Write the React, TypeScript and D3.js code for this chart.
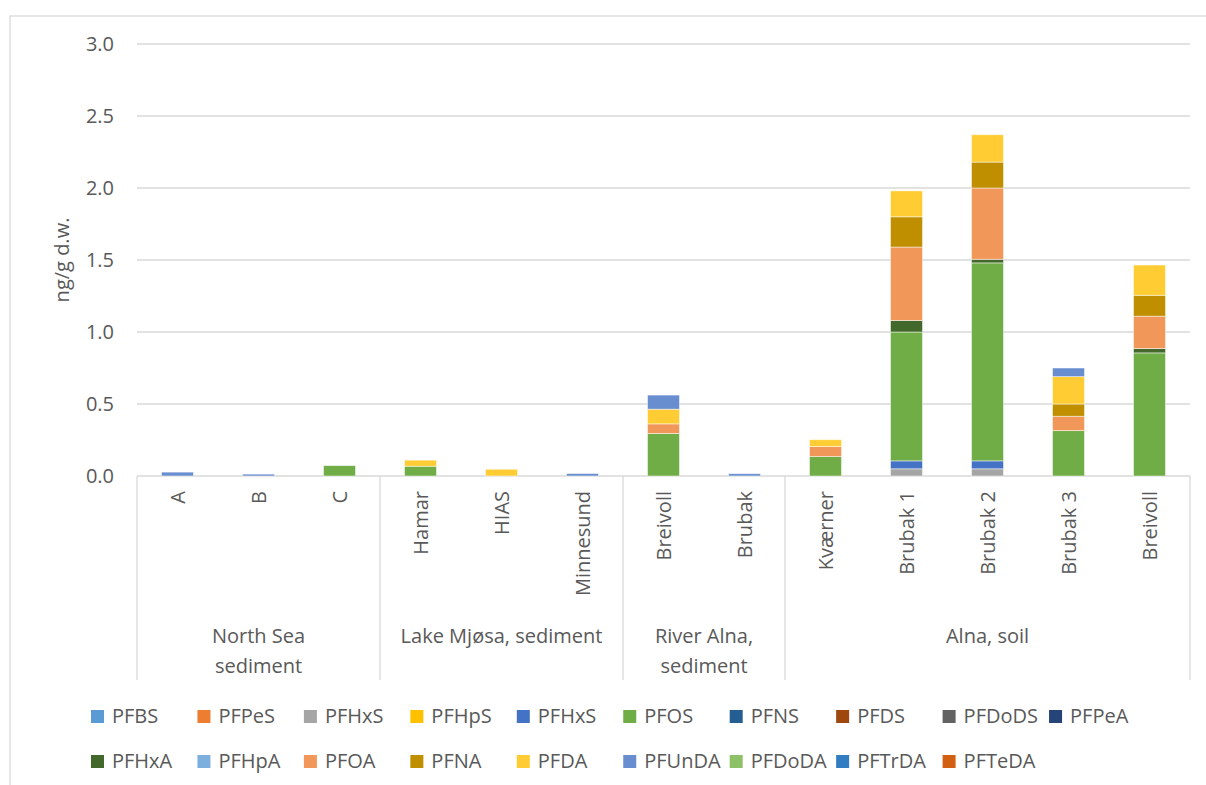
import React, { useEffect } from "react";
import * as d3 from "d3";

const categories = ["A", "B", "C", "Hamar", "HIAS", "Minnesund", "Breivoll", "Brubak", "Kværner", "Brubak 1", "Brubak 2", "Brubak 3", "Breivoll "];
const categoryLabels = ["A", "B", "C", "Hamar", "HIAS", "Minnesund", "Breivoll", "Brubak", "Kværner", "Brubak 1", "Brubak 2", "Brubak 3", "Breivoll"];

const groupLabels = [["North Sea", "sediment"], ["Lake Mjøsa, sediment"], ["River Alna,", "sediment"], ["Alna, soil"]];
const groupSizes = [3, 3, 2, 5];

const seriesNames = ["PFBS", "PFPeS", "PFHxS", "PFHpS", "PFHxS", "PFOS", "PFNS", "PFDS", "PFDoDS", "PFPeA", "PFHxA", "PFHpA", "PFOA", "PFNA", "PFDA", "PFUnDA", "PFDoDA", "PFTrDA", "PFTeDA"];
const seriesColors = ["#5B9BD5", "#ED7D31", "#A5A5A5", "#FFC000", "#4472C4", "#70AD47", "#255E91", "#9E480E", "#636363", "#264478", "#43682B", "#7CAFDD", "#F1975A", "#BF8F00", "#FFCD33", "#698ED0", "#8CC168", "#327DC2", "#D26012"];

const PFBS = [0, 0, 0, 0, 0, 0, 0, 0, 0, 0, 0, 0, 0];
const PFPeS = [0, 0, 0, 0, 0, 0, 0, 0, 0, 0, 0, 0, 0];
const PFHxS_a = [0, 0, 0, 0, 0, 0, 0, 0, 0, 0.05, 0.05, 0, 0];
const PFHpS = [0, 0, 0, 0, 0, 0, 0, 0, 0, 0, 0, 0, 0];
const PFHxS_b = [0, 0, 0, 0, 0, 0, 0, 0, 0, 0.055, 0.055, 0, 0];
const PFOS = [0, 0, 0.072, 0.068, 0, 0, 0.295, 0, 0.135, 0.895, 1.375, 0.315, 0.855];
const PFNS = [0, 0, 0, 0, 0, 0, 0, 0, 0, 0, 0, 0, 0];
const PFDS = [0, 0, 0, 0, 0, 0, 0, 0, 0, 0, 0, 0, 0];
const PFDoDS = [0, 0, 0, 0, 0, 0, 0, 0, 0, 0, 0, 0, 0];
const PFPeA = [0, 0, 0, 0, 0, 0, 0, 0, 0, 0, 0, 0, 0];
const PFHxA = [0, 0, 0, 0, 0, 0, 0, 0, 0, 0.08, 0.025, 0, 0.03];
const PFHpA = [0, 0, 0, 0, 0, 0, 0, 0, 0, 0, 0, 0, 0];
const PFOA = [0, 0, 0, 0, 0, 0, 0.067, 0, 0.07, 0.51, 0.495, 0.1, 0.225];
const PFNA = [0, 0, 0, 0, 0, 0, 0, 0, 0, 0.21, 0.18, 0.085, 0.145];
const PFDA = [0, 0, 0, 0.042, 0.047, 0, 0.102, 0, 0.047, 0.18, 0.19, 0.19, 0.21];
const PFUnDA = [0.027, 0.013, 0, 0, 0, 0.017, 0.098, 0.016, 0, 0, 0, 0.06, 0];
const PFDoDA = [0, 0, 0, 0, 0, 0, 0, 0, 0, 0, 0, 0, 0];
const PFTrDA = [0, 0, 0, 0, 0, 0, 0, 0, 0, 0, 0, 0, 0];
const PFTeDA = [0, 0, 0, 0, 0, 0, 0, 0, 0, 0, 0, 0, 0];

const seriesValues = [PFBS, PFPeS, PFHxS_a, PFHpS, PFHxS_b, PFOS, PFNS, PFDS, PFDoDS, PFPeA, PFHxA, PFHpA, PFOA, PFNA, PFDA, PFUnDA, PFDoDA, PFTrDA, PFTeDA];

const yTicks = [0, 0.5, 1, 1.5, 2, 2.5, 3];

const FONT = "'Open Sans', sans-serif";
const FS = 20;
const TEXT = "#595959";
const GRID = "#D9D9D9";

export default function App() {
  useEffect(() => {
    document.body.style.margin = "0";
  }, []);

  const W = 1206, H = 785;
  const left = 137, right = 1190, top = 44, bottom = 476;
  const x = d3.scaleBand<string>().domain(categories).range([left, right]).paddingInner(0.605).paddingOuter(0.3025);
  const y = d3.scaleLinear().domain([0, 3]).range([bottom, top]);
  const step = x.step();

  const rows = categories.map((c, i) => {
    const r: any = { cat: c };
    seriesValues.forEach((arr, k) => (r["s" + k] = arr[i]));
    return r;
  });
  const keys = seriesValues.map((_, k) => "s" + k);
  const stacked = d3.stack().keys(keys)(rows);

  const bounds: number[] = [left];
  let acc = 0;
  groupSizes.forEach((n) => {
    acc += n;
    bounds.push(left + acc * step);
  });

  const legendX0 = 91, legendDX = 106.45;
  const legendRows = [723, 768];

  return (
    <svg width={W} height={H} style={{ display: "block", fontFamily: FONT }}>
      <rect x={0} y={0} width={W} height={H} fill="#fff" />
      <rect x={10} y={16} width={1250} height={850} fill="none" stroke={GRID} strokeWidth={1.3} />
      {yTicks.map((t) => (
        <g key={t}>
          <line x1={left} x2={right} y1={y(t)} y2={y(t)} stroke={GRID} strokeWidth={1.3} />
          <text x={114} y={y(t)} dy="0.36em" textAnchor="end" fontSize={FS} fill={TEXT}>
            {t.toFixed(1)}
          </text>
        </g>
      ))}
      <text transform={`translate(69,${(top + bottom) / 2}) rotate(-90)`} textAnchor="middle" fontSize={FS} fill={TEXT}>
        ng/g d.w.
      </text>
      {stacked.map((s, k) => (
        <g key={k} fill={seriesColors[k]}>
          {s.map((d, i) =>
            d[1] - d[0] > 0 ? (
              <rect
                key={i}
                x={x(categories[i])!}
                width={x.bandwidth()}
                y={y(d[1])}
                height={y(d[0]) - y(d[1])}
                stroke="#fff"
                strokeOpacity={0.6}
                strokeWidth={0.8}
              />
            ) : null
          )}
        </g>
      ))}
      {bounds.map((b, i) => (
        <line key={i} x1={b} x2={b} y1={bottom} y2={680} stroke={GRID} strokeWidth={1.3} />
      ))}
      {categories.map((c, i) => (
        <text
          key={c}
          transform={`translate(${x(c)! + x.bandwidth() / 2},491) rotate(-90)`}
          textAnchor="end"
          dy="0.36em"
          fontSize={FS}
          fill={TEXT}
        >
          {categoryLabels[i]}
        </text>
      ))}
      {groupLabels.map((lines, g) => (
        <text key={g} x={(bounds[g] + bounds[g + 1]) / 2} y={643} textAnchor="middle" fontSize={FS} fill={TEXT}>
          {lines.map((ln, j) => (
            <tspan key={j} x={(bounds[g] + bounds[g + 1]) / 2} dy={j === 0 ? 0 : 30}>
              {ln}
            </tspan>
          ))}
        </text>
      ))}
      {seriesNames.map((n, k) => {
        const row = k < 10 ? 0 : 1;
        const col = k < 10 ? k : k - 10;
        const lx = legendX0 + col * legendDX;
        const ly = legendRows[row];
        return (
          <g key={k}>
            <rect x={lx} y={ly - 13} width={13} height={13} fill={seriesColors[k]} />
            <text x={lx + 21} y={ly} fontSize={FS} fill={TEXT}>
              {n}
            </text>
          </g>
        );
      })}
    </svg>
  );
}
